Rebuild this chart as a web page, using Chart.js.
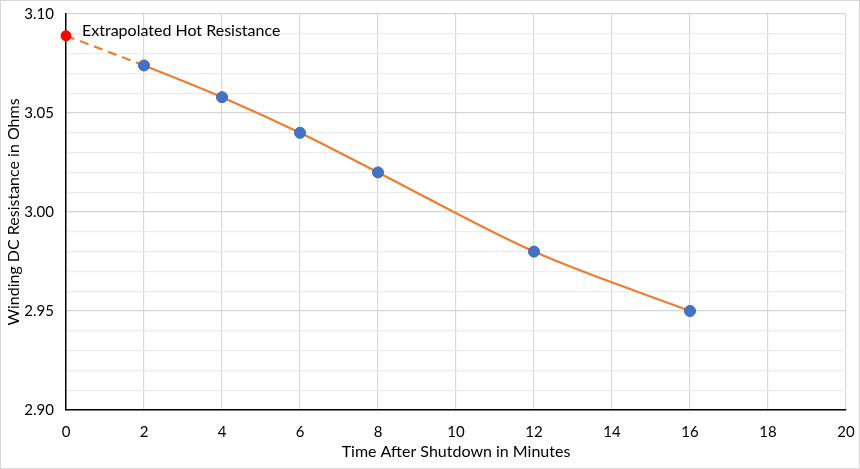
<!DOCTYPE html>
<html>
<head>
<meta charset="utf-8">
<script src="https://cdn.jsdelivr.net/npm/chart.js@4"></script>
<style>
  html, body { margin: 0; padding: 0; background: #fff; }
  #wrap { position: relative; width: 860px; height: 469px; box-sizing: border-box; border: 1px solid #d9d9d9; background:#fff; }
  canvas { display: block; }
</style>
</head>
<body>
<div id="wrap"><canvas id="c" width="858" height="467"></canvas></div>
<script>
// ---- data ----
const minutes = [2, 4, 6, 8, 12, 16];
const resistance = [3.074, 3.058, 3.040, 3.020, 2.980, 2.950];
const extrapolatedTime = [0];
const extrapolatedValue = [3.089];
const extrapolatedLabel = 'Extrapolated Hot Resistance';
const xTitle = 'Time After Shutdown in Minutes';
const yTitle = 'Winding DC Resistance in Ohms';
const xMin = 0, xMax = 20, xStep = 2;
const yMin = 2.90, yMax = 3.10, yStep = 0.01, yLabelEvery = 5;

const FONT = "Lato, 'Open Sans', sans-serif";

const pointsData = minutes.map((m, i) => ({ x: m, y: resistance[i] }));
const extraData = extrapolatedTime.map((t, i) => ({ x: t, y: extrapolatedValue[i] }));
const curveData = extraData.concat(pointsData);

const labelPlugin = {
  id: 'extraLabel',
  afterDatasetsDraw(chart) {
    const meta = chart.getDatasetMeta(2);
    const el = meta.data[0];
    if (!el) return;
    const ctx = chart.ctx;
    ctx.save();
    ctx.font = "16px " + FONT;
    ctx.fillStyle = '#000';
    ctx.textBaseline = 'middle';
    ctx.textAlign = 'left';
    ctx.fillText(extrapolatedLabel, el.x + 16, el.y - 5);
    ctx.restore();
  }
};

new Chart(document.getElementById('c'), {
  type: 'scatter',
  data: {
    datasets: [
      {
        label: 'trend',
        type: 'line',
        data: curveData,
        borderColor: '#ED7D31',
        borderWidth: 2.2,
        pointRadius: 0,
        cubicInterpolationMode: 'monotone',
        fill: false,
        segment: {
          borderDash: ctx => ctx.p0DataIndex === 0 ? [9, 6] : undefined
        },
        order: 3
      },
      {
        label: 'measured',
        data: pointsData,
        backgroundColor: '#4472C4',
        borderColor: '#3F68B5',
        borderWidth: 1,
        pointRadius: 5.5,
        order: 1
      },
      {
        label: 'extrapolated',
        data: extraData,
        backgroundColor: '#FF0000',
        borderColor: '#FF0000',
        pointRadius: 5,
        clip: false,
        order: 0
      }
    ]
  },
  options: {
    responsive: false,
    animation: false,
    devicePixelRatio: 1,
    layout: { padding: { left: 0, right: 13, top: 13, bottom: 0 } },
    plugins: { legend: { display: false }, tooltip: { enabled: false } },
    scales: {
      x: {
        type: 'linear',
        min: xMin, max: xMax,
        ticks: { stepSize: xStep, color: '#000', font: { family: FONT, size: 15 }, padding: 13, maxRotation: 0 },
        grid: { color: '#d9d9d9', lineWidth: 1.2, drawTicks: false },
        border: { color: '#000', width: 1.5 },
        title: { display: true, text: xTitle, color: '#000', font: { family: FONT, size: 16 }, padding: { top: 2, bottom: 7 } },
        afterFit(s) { s.height = 58; s.paddingLeft = 0; s.paddingRight = 0; }
      },
      y: {
        min: yMin, max: yMax,
        ticks: {
          stepSize: yStep, autoSkip: false, color: '#000', font: { family: FONT, size: 15 }, padding: 12,
          callback: v => (Math.round(v * 100) % yLabelEvery === 0) ? Number(v).toFixed(2) : ''
        },
        grid: {
          color: c => (Math.round(c.tick.value * 100) % yLabelEvery === 0) ? '#d6d6d6' : '#ececec',
          lineWidth: 1.2, drawTicks: false
        },
        border: { color: '#000', width: 1.5 },
        title: { display: true, text: yTitle, color: '#000', font: { family: FONT, size: 16 }, padding: { top: 3, bottom: 4 } },
        afterFit(s) { s.width = 65; s.paddingTop = 0; s.paddingBottom = 0; }
      }
    }
  },
  plugins: [labelPlugin]
});
</script>
</body>
</html>
